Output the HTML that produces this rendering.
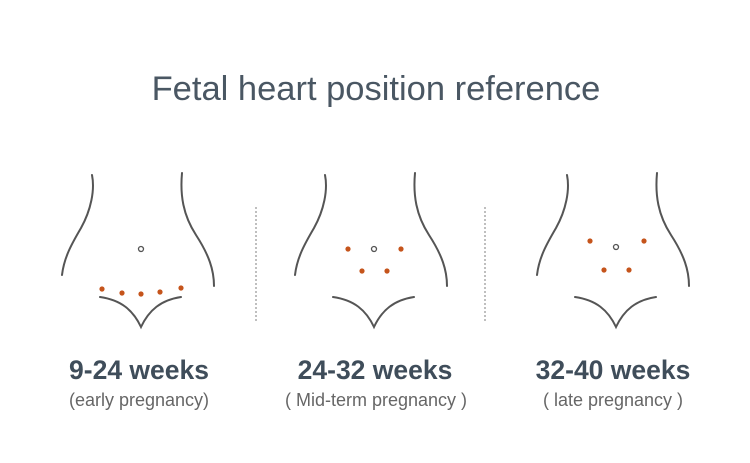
<!DOCTYPE html>
<html><head><meta charset="utf-8"><style>
html,body{margin:0;padding:0;background:#fff;}
svg{display:block}
</style></head><body>
<svg width="750" height="463" viewBox="0 0 750 463" xmlns="http://www.w3.org/2000/svg">
<rect width="750" height="463" fill="#fff"/>
<text x="376" y="100" text-anchor="middle" font-family="Liberation Sans, sans-serif" font-size="34.5" fill="#4a5763">Fetal heart position reference</text>
<defs>
<g id="body" fill="none" stroke="#555" stroke-width="2" stroke-linecap="round">
<path d="M-49,175 C-46,190 -50,210 -60,228 C-70,245 -77,258 -79,275"/>
<path d="M41,173 C39,195 42,215 55,235 C68,255 73,270 73,286"/>
<path d="M-41,297 C-20,300 -8,310 0,327 C8,310 20,300 40,297"/>
</g>
</defs>
<line x1="256" y1="207" x2="256" y2="322" stroke="#aaa" stroke-width="1.5" stroke-dasharray="2,2"/>
<line x1="485" y1="207" x2="485" y2="322" stroke="#aaa" stroke-width="1.5" stroke-dasharray="2,2"/>
<g transform="translate(141,0)">
<use href="#body"/>
<circle cx="0" cy="249" r="2.5" fill="none" stroke="#555" stroke-width="1.3"/>
<g fill="#c5541b"><circle cx="-39" cy="289" r="2.6"/><circle cx="-19" cy="293" r="2.6"/><circle cx="0" cy="294" r="2.6"/><circle cx="19" cy="292" r="2.6"/><circle cx="40" cy="288" r="2.6"/></g>
</g>
<g transform="translate(374,0)">
<use href="#body"/>
<circle cx="0" cy="249" r="2.5" fill="none" stroke="#555" stroke-width="1.3"/>
<g fill="#c5541b"><circle cx="-26" cy="249" r="2.6"/><circle cx="27" cy="249" r="2.6"/><circle cx="-12" cy="271" r="2.6"/><circle cx="13" cy="271" r="2.6"/></g>
</g>
<g transform="translate(616,0)">
<use href="#body"/>
<circle cx="0" cy="247" r="2.5" fill="none" stroke="#555" stroke-width="1.3"/>
<g fill="#c5541b"><circle cx="-26" cy="241" r="2.6"/><circle cx="28" cy="241" r="2.6"/><circle cx="-12" cy="270" r="2.6"/><circle cx="13" cy="270" r="2.6"/></g>
</g>
<g font-family="Liberation Sans, sans-serif" text-anchor="middle">
<text x="139" y="379" font-size="26.5" font-weight="bold" fill="#3f4d5a">9-24 weeks</text>
<text x="375" y="379" font-size="26.5" font-weight="bold" fill="#3f4d5a">24-32 weeks</text>
<text x="613" y="379" font-size="26.5" font-weight="bold" fill="#3f4d5a">32-40 weeks</text>
<text x="139" y="406" font-size="18" fill="#666">(early pregnancy)</text>
<text x="376" y="406" font-size="18" fill="#666">( Mid-term pregnancy )</text>
<text x="613" y="406" font-size="18" fill="#666">( late pregnancy )</text>
</g>
</svg>
</body></html>
